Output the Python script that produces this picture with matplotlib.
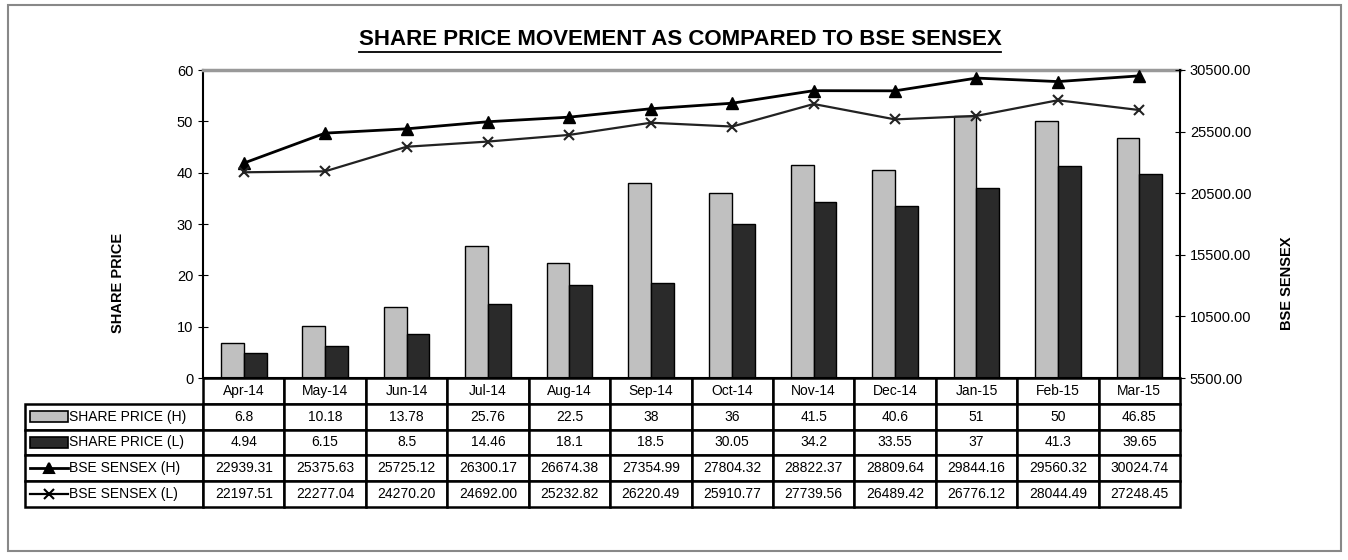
import matplotlib
matplotlib.use("Agg")
import matplotlib.pyplot as plt
import numpy as np
from matplotlib.table import Table
from matplotlib.patches import Rectangle
from matplotlib.lines import Line2D

plt.rcParams['font.family'] = ['Liberation Sans', 'DejaVu Sans']

months = ['Apr-14', 'May-14', 'Jun-14', 'Jul-14', 'Aug-14', 'Sep-14',
          'Oct-14', 'Nov-14', 'Dec-14', 'Jan-15', 'Feb-15', 'Mar-15']
sp_high = [6.8, 10.18, 13.78, 25.76, 22.5, 38, 36, 41.5, 40.6, 51, 50, 46.85]
sp_low = [4.94, 6.15, 8.5, 14.46, 18.1, 18.5, 30.05, 34.2, 33.55, 37, 41.3, 39.65]
bse_high = [22939.31, 25375.63, 25725.12, 26300.17, 26674.38, 27354.99,
            27804.32, 28822.37, 28809.64, 29844.16, 29560.32, 30024.74]
bse_low = [22197.51, 22277.04, 24270.20, 24692.00, 25232.82, 26220.49,
           25910.77, 27739.56, 26489.42, 26776.12, 28044.49, 27248.45]
row_labels = ['SHARE PRICE (H)', 'SHARE PRICE (L)', 'BSE SENSEX (H)', 'BSE SENSEX (L)']

light = '#c0c0c0'
dark = '#2a2a2a'

fig = plt.figure(figsize=(13.48, 5.6), dpi=100)
ax = fig.add_axes([0.1506, 0.325, 0.7248, 0.55])

x = np.arange(len(months))
w = 0.28
ax.bar(x - w / 2, sp_high, w, color=light, edgecolor='black', linewidth=1)
ax.bar(x + w / 2, sp_low, w, color=dark, edgecolor='black', linewidth=1)
ax.set_xlim(-0.5, len(months) - 0.5)
ax.set_ylim(0, 60)
ax.set_yticks(range(0, 61, 10))
ax.set_xticks([])
ax.tick_params(axis='y', direction='inout', length=7, labelsize=10.5, colors='black')
ax.spines['top'].set_color('#999999')
ax.spines['top'].set_linewidth(2.5)
ax.spines['left'].set_linewidth(1.5)
ax.spines['bottom'].set_linewidth(1.5)
ax.spines['right'].set_visible(False)

ax2 = ax.twinx()
ax2.plot(x, bse_high, color='black', lw=2, marker='^', ms=8)
ax2.plot(x, bse_low, color='#222222', lw=1.6, marker='x', ms=7, mew=1.5)
ax2.set_ylim(5500, 30500)
ax2.set_yticks(np.arange(5500, 30501, 5000))
ax2.set_yticklabels(['%.2f' % v for v in np.arange(5500, 30501, 5000)])
ax2.tick_params(axis='y', direction='inout', length=7, labelsize=10.5)
ax2.spines['right'].set_linewidth(1.5)
for s in ['top', 'left', 'bottom']:
    ax2.spines[s].set_visible(False)

# data table under the plot (bbox covers the month columns only)
lab_w = 0.1822
col_w = 1.0 / len(months)
nrows = 5
tbl_h = 0.4188
tb = Table(ax, bbox=[0, -tbl_h, 1, tbl_h])
tb.auto_set_font_size(False)
tb.set_fontsize(10.5)
rows_text = [
    ['%g' % v for v in sp_high],
    ['%g' % v for v in sp_low],
    ['%.2f' % v for v in bse_high],
    ['%.2f' % v for v in bse_low],
]
for j, m in enumerate(months):
    tb.add_cell(0, j, col_w, 1, text=m, loc='center')
for i, row in enumerate(rows_text):
    c = tb.add_cell(i + 1, -1, lab_w, 1, text=row_labels[i], loc='left')
    c.PAD = 0.25
    for j, t in enumerate(row):
        tb.add_cell(i + 1, j, col_w, 1, text=t, loc='center')
for cell in tb.get_celld().values():
    cell.set_linewidth(1.8)
    cell.set_edgecolor('black')
ax.add_table(tb)

# legend keys in the row label cells
rh = tbl_h / nrows
kx0 = (30 - 203) / 977
kx1 = (68 - 203) / 977
kh = rh * 0.42
for i in range(2):
    yc = -(i + 1.5) * rh
    ax.add_patch(Rectangle((kx0, yc - kh / 2), kx1 - kx0, kh,
                           facecolor=[light, dark][i], edgecolor='black',
                           lw=1.2, transform=ax.transAxes, clip_on=False))
for i, (mk, lw) in enumerate([('^', 2), ('x', 1.6)]):
    yc = -(i + 3.5) * rh
    ax.add_line(Line2D([kx0, kx1], [yc, yc], color='black', lw=lw,
                       transform=ax.transAxes, clip_on=False))
    ax.add_line(Line2D([(kx0 + kx1) / 2], [yc], color='black', marker=mk,
                       ms=7, mew=1.5, transform=ax.transAxes, clip_on=False))

fig.text(0.0875, 0.4946, 'SHARE PRICE', rotation=90, ha='center', va='center',
         fontsize=10.5, fontweight='bold')
fig.text(0.9548, 0.4946, 'BSE SENSEX', rotation=90, ha='center', va='center',
         fontsize=10.5, fontweight='bold')
title = fig.text(0.5045, 0.93, 'SHARE PRICE MOVEMENT AS COMPARED TO BSE SENSEX',
                 ha='center', va='center', fontsize=16, fontweight='bold')

# underline the title
fig.canvas.draw()
bb = title.get_window_extent().transformed(fig.transFigure.inverted())
fig.add_artist(Line2D([bb.x0, bb.x1], [bb.y0 - 0.004, bb.y0 - 0.004],
                      color='black', lw=1.3, transform=fig.transFigure))

# outer frame
fig.add_artist(Rectangle((8 / 1348, 1 - 551 / 560), 1333 / 1348, 546 / 560,
                         fill=False, edgecolor='#888888', lw=1.5,
                         transform=fig.transFigure))

fig.savefig('out.png', dpi=100)
